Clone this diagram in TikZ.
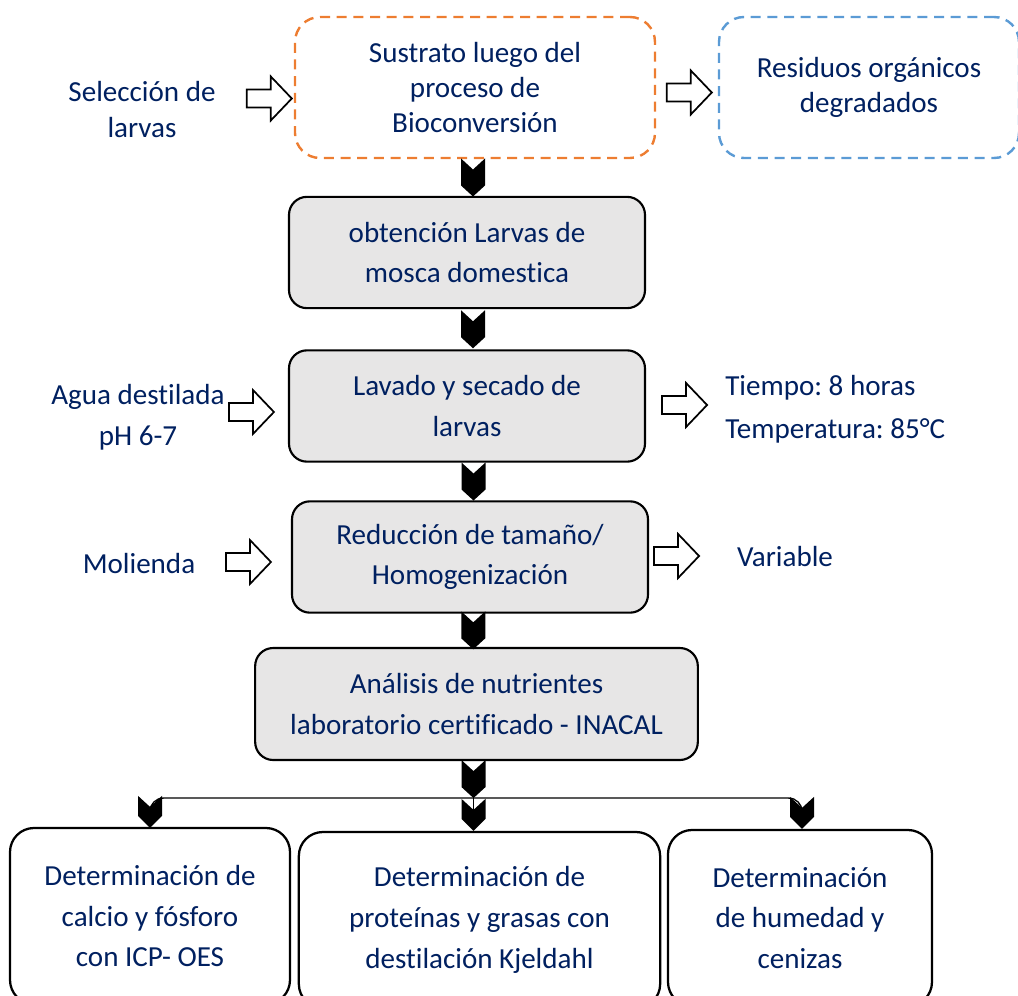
\documentclass[tikz,border=0pt]{standalone}
\usepackage{fontspec}
\setmainfont{Carlito}[Ligatures=NoCommon]
\usepackage{tikz}
\usepackage{xcolor}
\usetikzlibrary{calc}
\frenchspacing

\definecolor{navy}{RGB}{0,32,96}
\definecolor{boxgray}{RGB}{231,230,230}
\definecolor{dashorange}{RGB}{237,125,49}
\definecolor{dashblue}{RGB}{91,155,213}

\begin{document}
\begin{tikzpicture}[x=0.75pt,y=0.75pt,yscale=-1,
  txt/.style={text=navy,align=center,font=\fontsize{21.8}{30.5}\selectfont,inner sep=0pt},
  graybox/.style={txt,draw,line width=1.6pt,fill=boxgray,rounded corners=13.5pt,minimum width=267pt,minimum height=83.5pt},
  endbox/.style={txt,draw,line width=1.7pt,fill=white,rounded corners=18pt,minimum height=132pt},
  dashbox/.style={txt,draw,line width=1.8pt,dash pattern=on 7.5pt off 5pt,rounded corners=18.75pt,minimum width=270pt,minimum height=105.75pt,font=\fontsize{21.8}{26.6}\selectfont},
  chevron/.pic={\fill (-12,19) -- (0,8) -- (12,19) -- (12,-8) -- (0,-19) -- (-12,-8) -- cycle;},
  chevsmall/.pic={\fill (-12,16) -- (0,5) -- (12,16) -- (12,-4) -- (0,-16) -- (-12,-4) -- cycle;},
  blockarrow/.pic={\draw[line width=1.3pt,fill=white] (-45,-9) -- (-21,-9) -- (-21,-22) -- (0,0) -- (-21,22) -- (-21,9) -- (-45,9) -- cycle;}]
\useasboundingbox (0,0) rectangle (1018,996);
\clip (0,0) rectangle (1018,996);

%Dashed boxes
\node[dashbox,dashorange] (sustrato) at (475,87.5) {\textcolor{navy}{Sustrato luego del}\\\textcolor{navy}{proceso de}\\\textcolor{navy}{Bioconversión}};
\node[dashbox,dashblue,minimum width=225pt] (residuos) at (869,87.5) {\textcolor{navy}{Residuos orgánicos}\\\textcolor{navy}{degradados}};

%Process boxes
\node[graybox] (larvas) at (467,252.5) {obtención Larvas de\\mosca domestica};
\node[graybox] (lavado) at (467,406) {Lavado y secado de\\larvas};
\node[graybox] (reduccion) at (470,557) {Reducción de tamaño/\\Homogenización};
\node[graybox,minimum width=332pt,minimum height=84pt] (analisis) at (476.5,704) {Análisis de nutrientes\\laboratorio certificado - INACAL};

%Result boxes
\node[endbox,minimum width=210pt] (calcio) at (150,916) {Determinación de\\calcio y fósforo\\con ICP- OES};
\node[endbox,minimum width=271pt] (proteinas) at (479.5,920) {Determinación de\\proteínas y grasas con\\destilación Kjeldahl};
\node[endbox,minimum width=198pt] (humedad) at (800,918) {Determinación\\de humedad y\\cenizas};

% Text Node
\node[txt,font=\fontsize{21.8}{27}\selectfont] (seleccion) at (142,110) {Selección de\\larvas};
% Text Node
\node[txt,font=\fontsize{21.8}{30.75}\selectfont] (agua) at (138,417.5) {Agua destilada\\pH 6-7};
% Text Node
\node[txt,align=left,anchor=west,font=\fontsize{21.8}{32}\selectfont] (tiempo) at (725,409.5) {Tiempo: 8 horas\\Temperatura: 85°C};
% Text Node
\node[txt] (molienda) at (139,564) {Molienda};
% Text Node
\node[txt] (variable) at (785,557) {Variable};

%Block arrows
\pic at ($(sustrato.west)+(-2,11)$) {blockarrow};
\pic at ($(residuos.west)+(-6,5)$) {blockarrow};
\pic at ($(lavado.west)+(-14,6)$) {blockarrow};
\pic at ($(lavado.east)+(61,-1)$) {blockarrow};
\pic at ($(reduccion.west)+(-20,5)$) {blockarrow};
\pic at ($(reduccion.east)+(50,-1)$) {blockarrow};

%Chevrons between boxes
\coordinate (ch1) at ($(sustrato.south)!0.5!(larvas.north)+(2,0)$);
\coordinate (ch2) at ($(larvas.south)!0.5!(lavado.north)+(6,0)$);
\coordinate (ch3) at ($(lavado.south)!0.5!(reduccion.north)+(5,0)$);
\coordinate (ch4) at ($(reduccion.south)!0.5!(analisis.north)+(0,0)$);
\coordinate (ch5) at ($(analisis.south)+(-3,18)$);
\coordinate (chl) at ($(calcio.north)+(0,-15)$);
\coordinate (chm) at ($(proteinas.north)+(-6,-16)$);
\coordinate (chr) at ($(humedad.north)+(2,-16)$);
\foreach \c in {ch1,ch2,ch3,ch4,ch5} \pic at (\c) {chevron};
\foreach \c in {chl,chm,chr} \pic at (\c) {chevsmall};

%Branches
\coordinate (split) at ($(ch5)+(0,19)$);
\coordinate (chltop) at ($(chl)+(0,-5)$);
\coordinate (chmtop) at ($(chm)+(0,-5)$);
\coordinate (chrtop) at ($(chr)+(0,-5)$);
\draw[line width=1pt,rounded corners=10] (chltop) |- (split) -| (chrtop);
\draw[line width=1pt] (split) -- (chmtop);

\end{tikzpicture}
\end{document}
